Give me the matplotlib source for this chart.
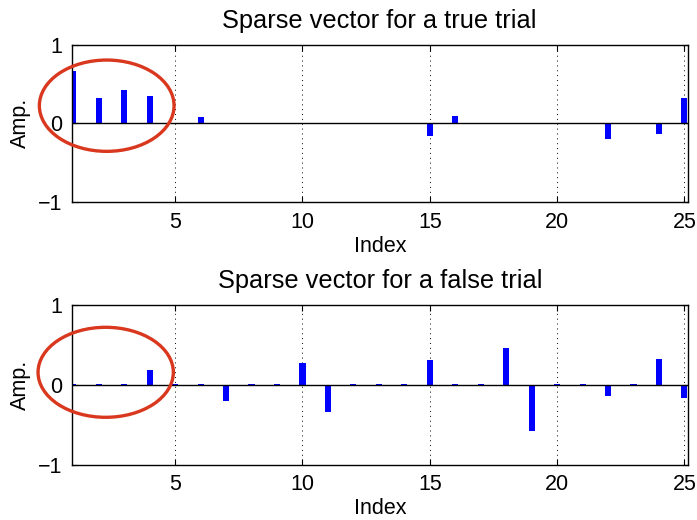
import matplotlib
matplotlib.use("Agg")
import matplotlib.pyplot as plt
from matplotlib.patches import Ellipse

plt.rcParams['font.family'] = ['Liberation Sans', 'DejaVu Sans']

index = list(range(1, 26))
true_trial = [0.66, 0.32, 0.43, 0.35, 0.004, 0.08, 0.004, 0.004, 0.004, 0.004,
              0.004, 0.004, 0.004, 0.004, -0.16, 0.09, 0.004, 0.004, 0.004, 0.004,
              0.004, -0.20, 0.004, -0.14, 0.32]
false_trial = [0.006, 0.006, 0.006, 0.18, 0.006, 0.006, -0.20, 0.006, 0.006, 0.275,
               -0.34, 0.006, 0.006, 0.006, 0.31, 0.006, 0.006, 0.455, -0.575, 0.006,
               0.006, -0.14, 0.006, 0.325, -0.16]
titles = ["Sparse vector for a true trial", "Sparse vector for a false trial"]
xticks = [5, 10, 15, 20, 25]
yticks = [-1, 0, 1]

W, H = 697, 520
fig = plt.figure(figsize=(W / 100, H / 100), dpi=100)

positions = [
    (72 / W, 1 - 202 / H, 615.5 / W, 157.3 / H),
    (72 / W, 1 - 464.7 / H, 615.5 / W, 160 / H),
]

for pos, vals, title in zip(positions, [true_trial, false_trial], titles):
    ax = fig.add_axes(pos)
    ax.bar(index, vals, width=0.24, color='#0000ff', zorder=2)
    ax.axhline(0, color='black', lw=1.0, zorder=3)
    ax.set_xlim(0.95, 25.12)
    ax.set_ylim(-1, 1)
    ax.set_xticks(xticks)
    ax.set_yticks(yticks)
    ax.xaxis.grid(True, linestyle=(0, (1, 4)), color='black', lw=0.7)
    ax.set_axisbelow(True)
    ax.tick_params(direction='in', length=4, width=0.8, top=True, right=True,
                   labelsize=15.5, pad=7)
    for s in ax.spines.values():
        s.set_linewidth(1.0)
    ax.set_title(title, fontsize=18.3, pad=12)
    ax.set_xlabel("Index", fontsize=15.5, labelpad=2)
    ax.set_ylabel("Amp.", fontsize=15.5)
    ax.yaxis.set_label_coords(-0.066, 0.5)

# red ellipses (figure pixel geometry)
for cx, cy, w, h in [(106.7, 105.7, 134.7, 91.3), (105.7, 372.3, 135.3, 90.0)]:
    e = Ellipse((cx / W, 1 - cy / H), w / W, h / H, transform=fig.transFigure,
                fill=False, ec='#d9381e', lw=2.4, zorder=10)
    fig.add_artist(e)

fig.savefig("out.png", dpi=100)
